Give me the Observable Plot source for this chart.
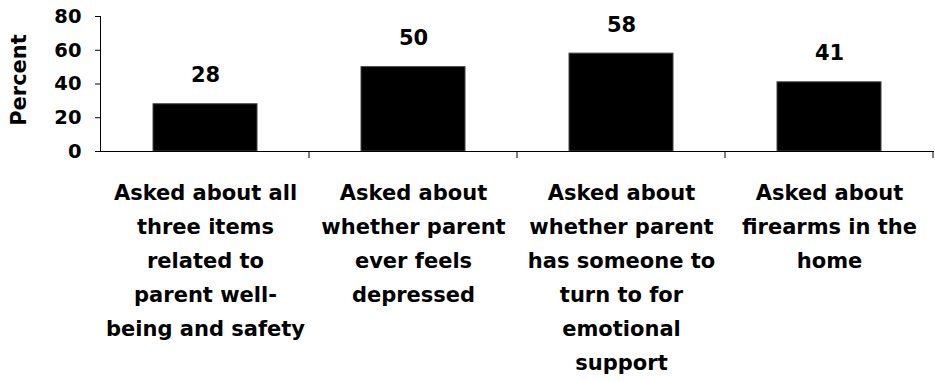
<!DOCTYPE html>
<html><head><meta charset="utf-8">
<script src="https://cdn.jsdelivr.net/npm/d3@7"></script>
<script src="https://cdn.jsdelivr.net/npm/@observablehq/plot@0.6"></script>
<style>body{margin:0;background:#fff}</style>
</head><body><div id="chart"></div>
<script>
const categories = [
  "Asked about all three items related to parent well-being and safety",
  "Asked about whether parent ever feels depressed",
  "Asked about whether parent has someone to turn to for emotional support",
  "Asked about firearms in the home"
];
const tickLabels = [
  "Asked about all\nthree items\nrelated to\nparent well-\nbeing and safety",
  "Asked about\nwhether parent\never feels\ndepressed",
  "Asked about\nwhether parent\nhas someone to\nturn to for\nemotional\nsupport",
  "Asked about\nfirearms in the\nhome"
];
const values = [28, 50, 58, 41];
const yTicks = [0, 20, 40, 60, 80];
const yDomain = [0, 80];
const yLabel = "Percent";

const data = categories.map((c, i) => ({category: c, value: values[i]}));

const chart = Plot.plot({
  width: 935, height: 381,
  marginTop: 16, marginBottom: 230, marginLeft: 100, marginRight: 1,
  style: {fontFamily: "'DejaVu Sans', sans-serif", fontWeight: "bold", color: "#000", background: "#fff"},
  x: {domain: categories, paddingInner: 0.5, paddingOuter: 0.25},
  y: {domain: yDomain},
  marks: [
    Plot.barY(data, {x: "category", y: "value", fill: "#000", stroke: "#444", strokeWidth: 1}),
    Plot.ruleY([0], {stroke: "#000"}),
    Plot.frame({anchor: "left", stroke: "#000"}),
    Plot.axisY({ticks: yTicks, tickSize: 5, tickPadding: 14, fontSize: 19.5, fontWeight: "bold", label: null}),
    Plot.axisX({tickSize: 0, tickPadding: 24, fontSize: 21, fontWeight: "bold", lineHeight: 34 / 21,
      tickFormat: d => tickLabels[categories.indexOf(d)], label: null}),
    Plot.text(data, {x: "category", y: "value", text: d => String(d.value), dy: -22, lineAnchor: "bottom", fontSize: 21, fontWeight: "bold"}),
    Plot.text([yLabel], {frameAnchor: "left", textAnchor: "middle", rotate: -90, dx: -81, dy: -4, fontSize: 21, fontWeight: "bold"})
  ]
});
document.getElementById("chart").appendChild(chart);

// boundary ticks between categories, from the library's x scale
const sx = chart.scale("x");
const sy = chart.scale("y");
const step = sx.step ?? ((sx.range[1] - sx.range[0]) / (categories.length - sx.paddingInner + 2 * sx.paddingOuter));
const bw = sx.bandwidth;
const bounds = categories.map(c => sx.apply(c) - (step - bw) / 2);
bounds.push(bounds[bounds.length - 1] + step);
const y0 = sy.apply(0);
d3.select(chart).append("g").attr("stroke", "#000")
  .selectAll("line").data(bounds.slice(1)).join("line")
  .attr("x1", d => d).attr("x2", d => d).attr("y1", y0).attr("y2", y0 + 7);
</script>
</body></html>
